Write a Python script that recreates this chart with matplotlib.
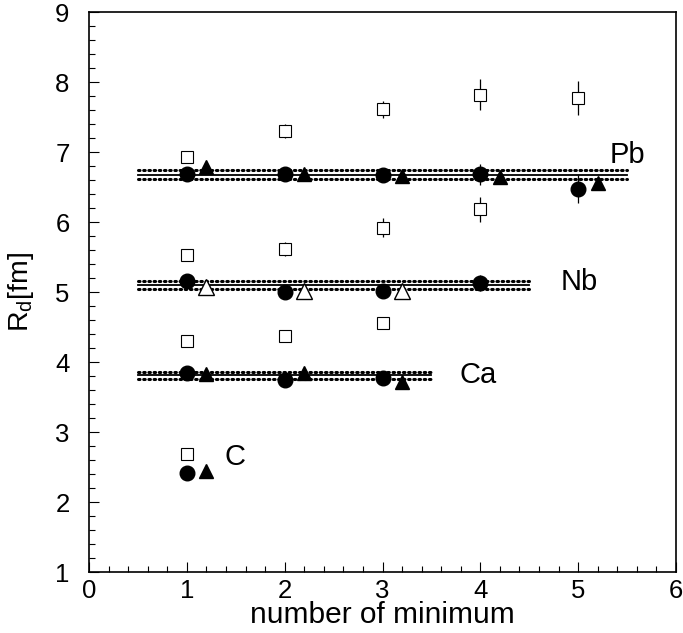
import numpy as np
import matplotlib
matplotlib.use("Agg")
import matplotlib.pyplot as plt
from matplotlib.ticker import MultipleLocator

plt.rcParams['font.family'] = ['Liberation Sans', 'DejaVu Sans']

# circles (filled), triangles (filled / open for Nb), open squares
pb_circ_x = [1, 2, 3, 4, 5]
pb_circ_y = [6.69, 6.69, 6.67, 6.68, 6.47]
pb_circ_e = [0.05, 0.06, 0.08, 0.15, 0.2]
pb_tri_x = [1.2, 2.2, 3.2, 4.2, 5.2]
pb_tri_y = [6.78, 6.69, 6.66, 6.64, 6.56]
pb_sq_x = [1, 2, 3, 4, 5]
pb_sq_y = [6.93, 7.3, 7.61, 7.82, 7.77]
pb_sq_e = [0.05, 0.1, 0.12, 0.22, 0.24]

nb_circ_x = [1, 2, 3, 4]
nb_circ_y = [5.16, 5.0, 5.02, 5.13]
nb_circ_e = [0.05, 0.05, 0.08, 0.12]
nb_tri_x = [1.2, 2.2, 3.2]
nb_tri_y = [5.07, 5.02, 5.02]
nb_sq_x = [1, 2, 3, 4]
nb_sq_y = [5.53, 5.61, 5.92, 6.18]
nb_sq_e = [0.05, 0.1, 0.14, 0.18]

ca_circ_x = [1, 2, 3]
ca_circ_y = [3.85, 3.75, 3.77]
ca_tri_x = [1.2, 2.2, 3.2]
ca_tri_y = [3.83, 3.84, 3.71]
ca_sq_x = [1, 2, 3]
ca_sq_y = [4.3, 4.37, 4.56]

c_circ_x, c_circ_y = [1], [2.42]
c_tri_x, c_tri_y = [1.2], [2.44]
c_sq_x, c_sq_y = [1], [2.69]

# mean values with bands: (mean, half width, x range)
means = [6.675, 5.1, 3.81]
band = [0.065, 0.06, 0.05]
xranges = [(0.5, 5.5), (0.5, 4.5), (0.5, 3.5)]

labels = ['Pb', 'Nb', 'Ca', 'C']
label_x = [5.32, 4.82, 3.79, 1.39]
label_y = [6.84, 5.03, 3.70, 2.53]

fig = plt.figure(figsize=(6.83, 6.33), dpi=100)
ax = fig.add_axes([89/683, 61/633, 587/683, 560/633])

for m, b, (x0, x1) in zip(means, band, xranges):
    ax.plot([x0, x1], [m, m], color='black', lw=1.3, zorder=2)
    for s in (-1, 1):
        ax.plot([x0, x1], [m + s*b, m + s*b], color='black', lw=2.2,
                linestyle=(0, (0.5, 1.2)), dash_capstyle='round', zorder=2)

circ = dict(fmt='o', color='black', ms=10.5, elinewidth=0.9, capsize=0, zorder=4)
sq = dict(fmt='s', mfc='white', mec='black', color='black', ms=8, mew=0.8,
          elinewidth=0.9, capsize=0, zorder=3)

ax.errorbar(pb_circ_x, pb_circ_y, yerr=pb_circ_e, **circ)
ax.errorbar(pb_sq_x, pb_sq_y, yerr=pb_sq_e, **sq)
ax.plot(pb_tri_x, pb_tri_y, '^', color='black', ms=10.5, zorder=4)

ax.errorbar(nb_circ_x, nb_circ_y, yerr=nb_circ_e, **circ)
ax.errorbar(nb_sq_x, nb_sq_y, yerr=nb_sq_e, **sq)
ax.plot(nb_tri_x, nb_tri_y, '^', mfc='white', mec='black', mew=1.0, ms=11, zorder=4)

ax.plot(ca_circ_x, ca_circ_y, 'o', color='black', ms=10.5, zorder=4)
ax.plot(ca_sq_x, ca_sq_y, 's', mfc='white', mec='black', mew=0.8, ms=8, zorder=3)
ax.plot(ca_tri_x, ca_tri_y, '^', color='black', ms=10.5, zorder=4)

ax.plot(c_circ_x, c_circ_y, 'o', color='black', ms=10.5, zorder=4)
ax.plot(c_sq_x, c_sq_y, 's', mfc='white', mec='black', mew=0.8, ms=8, zorder=3)
ax.plot(c_tri_x, c_tri_y, '^', color='black', ms=10.5, zorder=4)

for t, x, y in zip(labels, label_x, label_y):
    ax.text(x, y, t, fontsize=21, ha='left', va='baseline')

ax.set_xlim(0, 6)
ax.set_ylim(1, 9)
ax.xaxis.set_major_locator(MultipleLocator(1))
ax.xaxis.set_minor_locator(MultipleLocator(0.2))
ax.yaxis.set_major_locator(MultipleLocator(1))
ax.yaxis.set_minor_locator(MultipleLocator(0.2))
ax.tick_params(which='both', direction='in', top=False, right=False, labelsize=18.5, width=0.8)
ax.tick_params(which='major', length=7)
ax.tick_params(which='minor', length=4)
ax.tick_params(axis='x', pad=5)
ax.tick_params(axis='y', pad=14)
for sp in ax.spines.values():
    sp.set_linewidth(1.2)

fig.text(382.5/683, 1 - 623/633, 'number of minimum', fontsize=21.5,
         ha='center', va='baseline')
fig.text(6/683, 1 - 292/633, r'R$_\mathregular{d}$[fm]', fontsize=20.5,
         rotation=90, ha='left', va='center')

fig.savefig('out.png', dpi=100)
